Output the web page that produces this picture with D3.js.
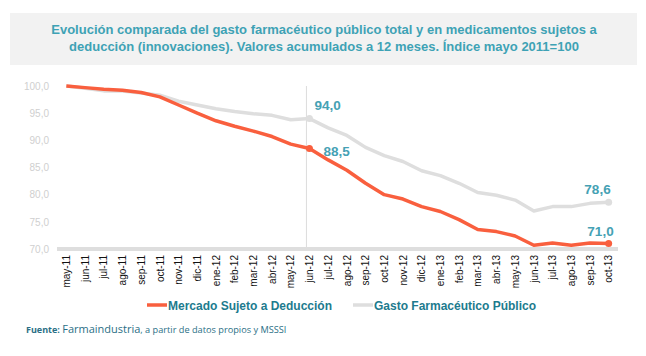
<!DOCTYPE html>
<html><head><meta charset="utf-8">
<script src="https://cdn.jsdelivr.net/npm/d3@7"></script>
<style>body{margin:0;background:#fff}svg{display:block}</style>
</head><body>
<svg id="c" width="646" height="356"></svg>
<script>
const months = ["may-11","jun-11","jul-11","ago-11","sep-11","oct-11","nov-11","dic-11","ene-12","feb-12","mar-12","abr-12","may-12","jun-12","jul-12","ago-12","sep-12","oct-12","nov-12","dic-12","ene-13","feb-13","mar-13","abr-13","may-13","jun-13","jul-13","ago-13","sep-13","oct-13"];
const mercado = [100.0,99.7,99.4,99.2,98.8,98.0,96.5,95.0,93.6,92.6,91.7,90.7,89.3,88.5,86.4,84.5,82.1,80.0,79.2,77.8,76.9,75.4,73.6,73.2,72.4,70.7,71.1,70.7,71.1,71.0];
const gasto = [100.0,99.6,99.1,99.1,98.7,98.3,97.2,96.5,95.8,95.3,94.9,94.6,93.8,94.0,92.3,90.9,88.7,87.2,86.1,84.4,83.5,82.1,80.4,79.9,79.0,77.0,77.8,77.8,78.4,78.6];
const yTicks = [70,75,80,85,90,95,100];
const seriesNames = ["Mercado Sujeto a Deducción","Gasto Farmacéutico Público"];
const titleLines = ["Evolución comparada del gasto farmacéutico público total y en medicamentos sujetos a","deducción (innovaciones). Valores acumulados a 12 meses. Índice mayo 2011=100"];
const labelIdx = [13, 29];

const ORANGE = "#f95f3e", GRAY = "#dedede", TEAL = "#45a1b4", DTEAL = "#1d7b8e";
const svg = d3.select("#c");
const font = "'Liberation Sans', Arial, Helvetica, sans-serif";
const loc = d3.formatLocale({decimal: ",", thousands: ".", grouping: [3], currency: ["", "€"]});
const fmt = loc.format(".1f");

// title box
svg.append("rect").attr("x",10).attr("y",13).attr("width",627).attr("height",52).attr("fill","#f2f2f2");
svg.selectAll("text.title").data(titleLines).join("text")
  .attr("x",324).attr("y",(d,i)=>34+i*17).attr("text-anchor","middle")
  .attr("font-family",font).attr("font-weight","bold").attr("font-size",13)
  .attr("fill","#3ea2b5").text(d=>d);

const x = d3.scalePoint().domain(months).range([57,618]).padding(0.5);
const y = d3.scaleLinear().domain([70,100]).range([249,86]);

// y axis labels
const ya = svg.append("g").attr("transform","translate(49,0)")
  .call(d3.axisLeft(y).tickValues(yTicks).tickFormat(fmt).tickSize(0).tickPadding(0));
ya.select(".domain").remove();
ya.selectAll("text").attr("font-family",font).attr("font-size",10).attr("fill","#cfcfcf");

// vertical marker
svg.append("line").attr("x1",x("jun-12")-3).attr("x2",x("jun-12")-3).attr("y1",86).attr("y2",249)
  .attr("stroke","#dcdcdc").attr("stroke-width",1);

// x axis
svg.append("line").attr("x1",57).attr("x2",618).attr("y1",249).attr("y2",249)
  .attr("stroke","#dedede").attr("stroke-width",4);
const xa = svg.append("g").attr("transform","translate(0,254)")
  .call(d3.axisBottom(x).tickSize(0).tickPadding(0));
xa.select(".domain").remove();
xa.selectAll("text").attr("font-family",font).attr("font-size",10).attr("fill","#111")
  .attr("transform","rotate(-90)").attr("text-anchor","end").attr("dy","0.32em").attr("y",0).attr("x",-1);

const line = d3.line().x((d,i)=>x(months[i])).y(d=>y(d));
svg.append("path").datum(gasto).attr("d",line).attr("fill","none").attr("stroke",GRAY).attr("stroke-width",3.5).attr("stroke-linejoin","round");
svg.append("path").datum(mercado).attr("d",line).attr("fill","none").attr("stroke",ORANGE).attr("stroke-width",3.5).attr("stroke-linejoin","round");

[[gasto,GRAY],[mercado,ORANGE]].forEach(([s,c])=>{
  svg.selectAll(null).data(labelIdx).join("circle")
    .attr("cx",i=>x(months[i])).attr("cy",i=>y(s[i])).attr("r",3.5).attr("fill",c);
});

// value labels
const lab = [
  {s:gasto,i:13,dx:5,dy:-8.5,anchor:"start"},
  {s:mercado,i:13,dx:14,dy:7.5,anchor:"start"},
  {s:gasto,i:29,dx:2,dy:-8,anchor:"end"},
  {s:mercado,i:29,dx:5,dy:-7.5,anchor:"end"}
];
svg.selectAll("text.vl").data(lab).join("text")
  .attr("x",d=>x(months[d.i])+d.dx).attr("y",d=>y(d.s[d.i])+d.dy)
  .attr("text-anchor",d=>d.anchor)
  .attr("font-family",font).attr("font-weight","bold").attr("font-size",13.5).attr("fill",TEAL)
  .text(d=>fmt(d.s[d.i]));

// legend
const lg = [{name:seriesNames[0],c:ORANGE,x:147},{name:seriesNames[1],c:GRAY,x:353}];
lg.forEach(l=>{
  svg.append("line").attr("x1",l.x).attr("x2",l.x+20).attr("y1",305).attr("y2",305).attr("stroke",l.c).attr("stroke-width",3.5);
  svg.append("text").attr("x",l.x+21).attr("y",309.5).attr("font-family",font).attr("font-weight","bold")
    .attr("font-size",12).attr("fill",DTEAL).text(l.name);
});

// source
const src = svg.append("text").attr("x",26).attr("y",333).attr("font-family","'Open Sans', "+font).attr("fill","#2b6f86");
src.append("tspan").attr("font-weight","bold").attr("font-size",9).text("Fuente: ");
src.append("tspan").attr("font-size",11).text("Farmaindustria");
src.append("tspan").attr("font-size",9.2).text(", a partir de datos propios y MSSSI");
</script>
</body></html>
